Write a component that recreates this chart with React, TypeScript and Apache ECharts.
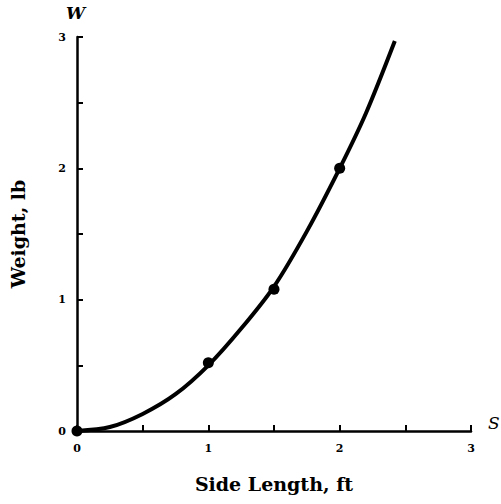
import React, { useEffect, useRef } from "react";
import * as echarts from "echarts";

const curveS = [0, 0.25, 0.5, 0.75, 1, 1.25, 1.5, 1.75, 2, 2.2, 2.42];
const curveW = [0, 0.03, 0.13, 0.28, 0.5, 0.78, 1.1, 1.52, 2, 2.42, 2.97];
const pointS = [0, 1, 1.5, 2];
const pointW = [0, 0.52, 1.08, 2];
const tickLabels = ["0", "1", "2", "3"];

const serif = "'DejaVu Serif', 'Liberation Serif', serif";

export default function App() {
  const ref = useRef<HTMLDivElement>(null);
  useEffect(() => {
    if (!ref.current) return;
    const chart = echarts.init(ref.current, null, { renderer: "svg" });
    const labelFmt = (v: number) =>
      Number.isInteger(v) ? tickLabels[v] ?? "" : "";
    chart.setOption({
      animation: false,
      backgroundColor: "#fff",
      grid: { left: 76, right: 30, top: 37, bottom: 73 },
      xAxis: {
        type: "value",
        min: 0,
        max: 3,
        interval: 0.5,
        name: "Side Length, ft",
        nameLocation: "middle",
        nameGap: 43,
        nameTextStyle: { fontFamily: serif, fontWeight: "bold", fontSize: 19, color: "#000" },
        axisLine: { lineStyle: { color: "#000", width: 2.5 } },
        axisTick: { inside: true, length: 6, lineStyle: { color: "#000", width: 2 } },
        axisLabel: { formatter: labelFmt, margin: 12, fontFamily: serif, fontWeight: "bold", fontSize: 11, color: "#000" },
        splitLine: { show: false },
      },
      yAxis: {
        type: "value",
        min: 0,
        max: 3,
        interval: 0.5,
        name: "Weight, lb",
        nameLocation: "middle",
        nameGap: 50,
        nameRotate: 90,
        nameTextStyle: { fontFamily: serif, fontWeight: "bold", fontSize: 19, color: "#000" },
        axisLine: { lineStyle: { color: "#000", width: 2.5 } },
        axisTick: { inside: true, length: 6, lineStyle: { color: "#000", width: 2 } },
        axisLabel: { formatter: labelFmt, margin: 11, fontFamily: serif, fontWeight: "bold", fontSize: 11, color: "#000" },
        splitLine: { show: false },
      },
      graphic: [
        { type: "text", left: 66, top: 4, style: { text: "W", font: `italic bold 17px ${serif}`, fill: "#000" } },
        { type: "text", left: 488, top: 414, style: { text: "S", font: `italic 17px ${serif}`, fill: "#000" } },
      ],
      series: [
        {
          type: "line",
          data: curveS.map((s, i) => [s, curveW[i]]),
          smooth: 0.3,
          showSymbol: false,
          lineStyle: { color: "#000", width: 4 },
          z: 3,
        },
        {
          type: "scatter",
          data: pointS.map((s, i) => [s, pointW[i]]),
          symbolSize: 11,
          itemStyle: { color: "#000", opacity: 1 },
          z: 4,
        },
      ],
    });
    return () => chart.dispose();
  }, []);
  return <div ref={ref} style={{ width: 501, height: 504, position: "absolute", left: 0, top: 0 }} />;
}
